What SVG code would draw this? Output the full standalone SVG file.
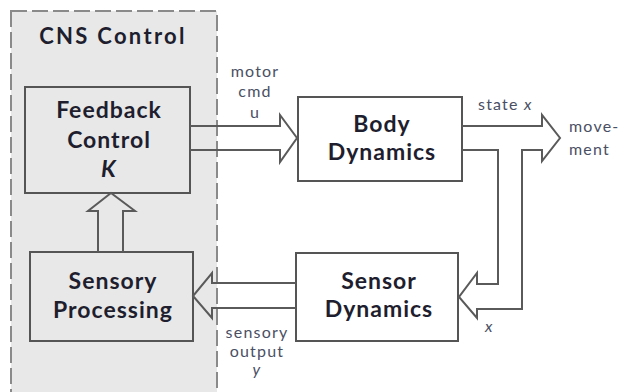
<svg xmlns="http://www.w3.org/2000/svg" width="619" height="392" viewBox="0 0 619 392">
  <style>
    .box { fill: none; stroke: #555; stroke-width: 2; }
    .cns { fill: #e8e8e8; stroke: #8a8a8a; stroke-width: 2; stroke-dasharray: 16 5; }
    .pipe { fill: none; stroke: #5a5a5a; stroke-width: 2; stroke-linejoin: miter; }
    .node { font-family: Lato, "Open Sans", sans-serif; font-weight: bold; font-size: 23px; letter-spacing: 1px; fill: #1e1e2e; text-anchor: middle; }
    .title { font-size: 22px; letter-spacing: 2.3px; }
    .lbl { font-family: Lato, "Open Sans", sans-serif; font-size: 16px; letter-spacing: 1.2px; fill: #4a5064; }
    .mid { text-anchor: middle; }
    .it { font-style: italic; }
  </style>

  <!-- controller boundary -->
  <g id="cns">
    <rect class="cns" x="11" y="11" width="206" height="390"/>
    <text class="node title" x="113" y="44">CNS Control</text>
  </g>

  <g id="feedback">
    <rect class="box" x="25" y="87" width="165" height="106"/>
    <text class="node" x="109" y="118">Feedback</text>
    <text class="node" x="109" y="148">Control</text>
    <text class="node it" x="109" y="177">K</text>
  </g>

  <g id="sensory-processing">
    <rect class="box" x="30" y="252" width="163" height="89"/>
    <text class="node" x="113" y="289">Sensory</text>
    <text class="node" x="113" y="318">Processing</text>
  </g>

  <g id="body">
    <rect class="box" x="298" y="97" width="164" height="84"/>
    <text class="node" x="382" y="132">Body</text>
    <text class="node" x="382" y="160">Dynamics</text>
  </g>

  <g id="sensor">
    <rect class="box" x="296" y="253" width="162" height="88"/>
    <text class="node" x="379" y="289">Sensor</text>
    <text class="node" x="379" y="317">Dynamics</text>
  </g>

  <!-- double-line flow arrows -->
  <g id="connectors">
    <!-- motor command u -->
    <path class="pipe" d="M190,126 H280 V115 L297,138 L280,162 V150 H190"/>
    <!-- state x: out to movement and back down to sensors -->
    <path class="pipe" d="M462,126 H542 V115 L560,138 L542,161 V150 H522 V309 H477 V318 L459,297 L477,273 V284 H498 V150 H462"/>
    <!-- sensory output y -->
    <path class="pipe" d="M296,283 H212 V273 L193,296 L212,318 V308 H296"/>
    <!-- processed feedback up to controller -->
    <path class="pipe" d="M98,252 V211 H88 L111,193 L135,211 H123 V252"/>
  </g>

  <g id="labels">
    <text class="lbl mid" x="255" y="77">motor</text>
    <text class="lbl mid" x="255" y="97">cmd</text>
    <text class="lbl mid" x="255" y="118">u</text>
    <text class="lbl" x="478" y="110">state <tspan class="it">x</tspan></text>
    <text class="lbl" x="569" y="132">move-</text>
    <text class="lbl" x="569" y="155">ment</text>
    <text class="lbl it" x="485" y="332">x</text>
    <text class="lbl mid" x="257" y="338">sensory</text>
    <text class="lbl mid" x="257" y="357">output</text>
    <text class="lbl mid it" x="257" y="375">y</text>
  </g>
</svg>
